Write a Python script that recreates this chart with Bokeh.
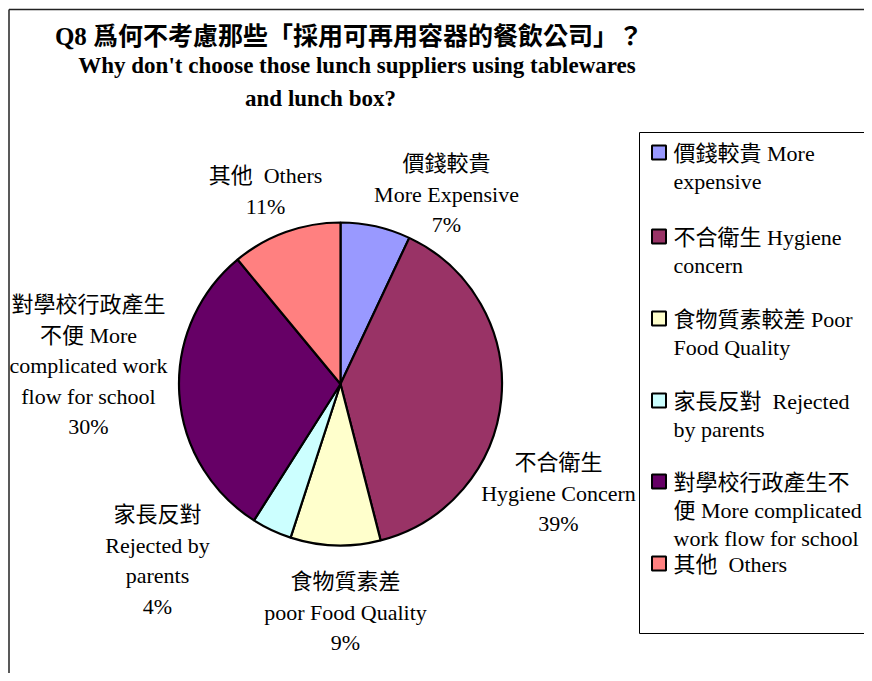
import math
from bokeh.plotting import figure
from bokeh.models import Range1d, ColumnDataSource
from bokeh.core.properties import value
from bokeh.embed import file_html
from bokeh.resources import INLINE

# ---------------- data ----------------
categories = ["價錢較貴 More expensive", "不合衛生 Hygiene concern", "食物質素較差 Poor Food Quality",
              "家長反對  Rejected by parents", "對學校行政產生不便 More complicated work flow for school",
              "其他  Others"]
values = [7, 39, 9, 4, 30, 11]
colors = ["#9999FF", "#993366", "#FFFFCC", "#CCFFFF", "#660066", "#FF8080"]

title_lines = ["Q8 爲何不考慮那些「採用可再用容器的餐飲公司」？",
               "Why don't choose those lunch suppliers using tablewares",
               "and lunch box?"]

label_lines = [
    ["價錢較貴", "More Expensive"],
    ["不合衛生", "Hygiene Concern"],
    ["食物質素差", "poor Food Quality"],
    ["家長反對", "Rejected by", "parents"],
    ["對學校行政產生", "不便 More", "complicated work", "flow for school"],
    ["其他\u00a0 Others"],
]

legend_lines = [
    ["價錢較貴 More", "expensive"],
    ["不合衛生 Hygiene", "concern"],
    ["食物質素較差 Poor", "Food Quality"],
    ["家長反對\u00a0 Rejected", "by parents"],
    ["對學校行政產生不", "便 More complicated", "work flow for school"],
    ["其他\u00a0 Others"],
]

# ---------------- layout ----------------
W, H = 864, 673
def X(px):
    return px
def Y(py):
    return H - py

FONT = "'Liberation Serif', 'Noto Sans CJK TC', serif"
DY = 8  # empirical baseline correction

p = figure(width=W, height=H, x_range=Range1d(0, W), y_range=Range1d(0, H),
           output_backend="svg", toolbar_location=None,
           x_axis_location=None, y_axis_location=None,
           min_border=0, min_border_left=0, min_border_right=0,
           min_border_top=0, min_border_bottom=0)
p.grid.visible = False
p.outline_line_color = None
p.background_fill_color = "white"
p.border_fill_color = "white"

# chart border (left and top visible)
p.segment(x0=[X(8.5), X(8.5)], y0=[Y(9), Y(700)], x1=[X(900), X(8.5)], y1=[Y(9), Y(9)],
          line_color="#222222", line_width=1.5)

# pie
cx, cy, R = X(340), Y(383.5), 161.5
total = float(sum(values))
starts, ends = [], []
cum = 0.0
for v in values:
    starts.append(math.pi / 2 - 2 * math.pi * cum / total)
    cum += v
    ends.append(math.pi / 2 - 2 * math.pi * cum / total)
src = ColumnDataSource(dict(start=starts, end=ends, color=colors, cat=categories))
p.wedge(x=cx, y=cy, radius=R, start_angle="start", end_angle="end", direction="clock",
        fill_color="color", line_color="black", line_width=2.2, source=src)

# title
title_pos = [(348.5, 44, "25px"), (356.5, 73, "23px"), (320, 106, "23px")]
for (tx, ty, fs), t in zip(title_pos, title_lines):
    p.text(x=[X(tx)], y=[Y(ty - DY)], text=[t], text_align="center", text_baseline="alphabetic",
           text_font=value(FONT), text_font_size=fs, text_font_style="bold", text_color="black")

# data labels
label_anchor = [(446, 171), (558, 470), (345, 589), (157, 522), (88, 312), (265, 183)]
LS = 30.5
for (lx, ly), lines, v in zip(label_anchor, label_lines, values):
    all_lines = lines + [f"{v}%"]
    xs = [X(lx)] * len(all_lines)
    ys = [Y(ly - DY + i * LS) for i in range(len(all_lines))]
    p.text(x=xs, y=ys, text=all_lines, text_align="center", text_baseline="alphabetic",
           text_font=value(FONT), text_font_size="22px", text_color="black")

# legend box
p.quad(left=[X(639)], right=[X(900)], top=[Y(132)], bottom=[Y(633)],
       fill_color="white", line_color="black", line_width=1)
sq_y = [152, 236, 318, 400, 481, 563]
p.rect(x=[X(658.5)] * len(sq_y), y=[Y(s) for s in sq_y], width=14, height=14,
       fill_color=colors, line_color="black", line_width=2)
LL = 28
for s, lines in zip(sq_y, legend_lines):
    xs = [X(673)] * len(lines)
    ys = [Y(s + 1 + i * LL) for i in range(len(lines))]
    p.text(x=xs, y=ys, text=lines, text_align="left", text_baseline="middle",
           text_font=value(FONT), text_font_size="22px", text_color="black")

open("out.html", "w").write(file_html(p, INLINE))
